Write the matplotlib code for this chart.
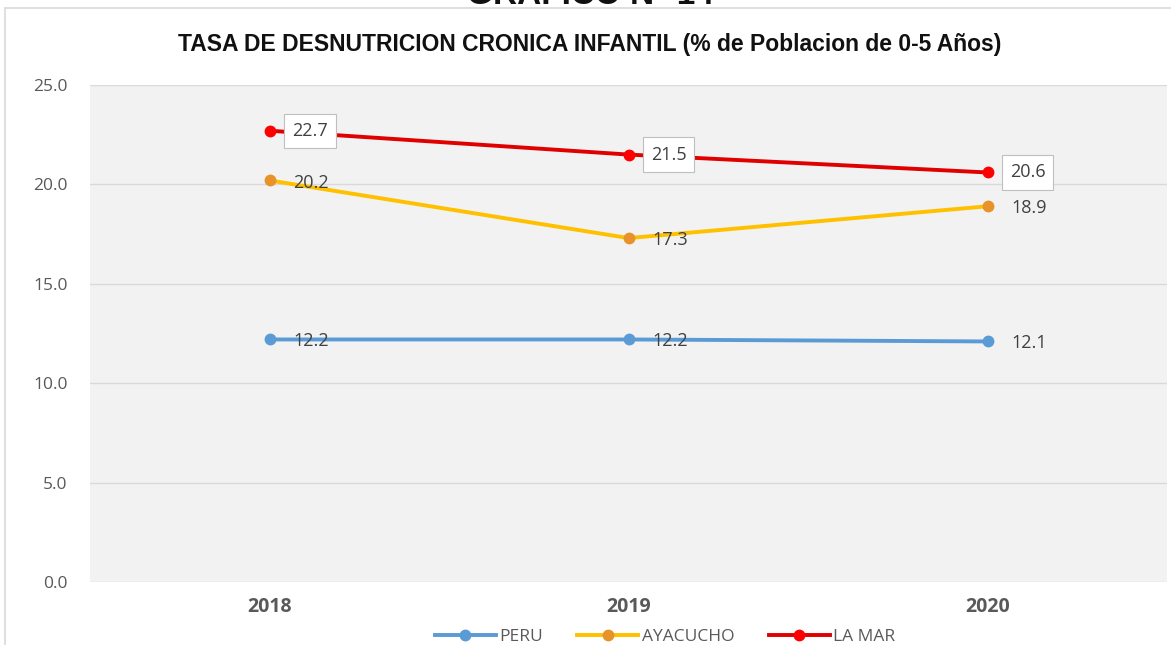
import matplotlib.pyplot as plt
from matplotlib.patches import Rectangle

years = ["2018", "2019", "2020"]
peru = [12.2, 12.2, 12.1]
ayacucho = [20.2, 17.3, 18.9]
la_mar = [22.7, 21.5, 20.6]

title = "TASA DE DESNUTRICION CRONICA INFANTIL (% de Poblacion de 0-5 Años)"
header = "GRAFICO N° 14"

plt.rcParams['font.family'] = ['Open Sans', 'DejaVu Sans']

fig = plt.figure(figsize=(11.71, 6.45), dpi=100)
fig.patch.set_facecolor("white")

# outer chart frame (cut on the right and bottom like the reference)
fig.patches.append(Rectangle((5 / 1171, -0.05), 1.2, 1 - 8 / 645 + 0.05,
                             transform=fig.transFigure, fill=False,
                             edgecolor="#d9d9d9", linewidth=1.2))

fig.text(590 / 1171, 1 - 4 / 645, header, ha="center", va="baseline",
         fontsize=24, fontweight="bold", family="Liberation Sans", color="#111111")
fig.text(590 / 1171, 1 - 45 / 645, title, ha="center", va="center",
         fontsize=16.5, fontweight="bold", family="Liberation Sans", color="#111111")

ax = fig.add_axes([90 / 1171, 1 - 582 / 645, (1167 - 90) / 1171, (582 - 85) / 645])
ax.set_facecolor("#f2f2f2")
x = range(len(years))

ax.plot(x, peru, color="#5b9bd5", lw=2.8, marker="o", ms=7.5, mfc="#5b9bd5", mec="#5b9bd5", label="PERU", zorder=3)
ax.plot(x, ayacucho, color="#ffc000", lw=2.8, marker="o", ms=7.5, mfc="#e8922a", mec="#e8922a", label="AYACUCHO", zorder=3)
ax.plot(x, la_mar, color="#e00000", lw=2.8, marker="o", ms=7.5, mfc="#ff0000", mec="#ff0000", label="LA MAR", zorder=4)

for i, v in enumerate(peru):
    ax.annotate(f"{v:.1f}", (i, v), xytext=(17, -1), textcoords="offset points",
                ha="left", va="center", fontsize=13, color="#404040", zorder=5)
for i, v in enumerate(ayacucho):
    ax.annotate(f"{v:.1f}", (i, v), xytext=(17, -1.5), textcoords="offset points",
                ha="left", va="center", fontsize=13, color="#404040", zorder=5)
for i, v in enumerate(la_mar):
    ax.annotate(f"{v:.1f}", (i, v), xytext=(16, 0), textcoords="offset points",
                ha="left", va="center", fontsize=13, color="#404040", zorder=5,
                bbox=dict(boxstyle="square,pad=0.45", fc="white", ec="#bfbfbf", lw=0.8))

ax.set_xlim(-0.5, 2.5)
ax.set_ylim(0, 25)
ax.set_yticks([0, 5, 10, 15, 20, 25])
ax.set_yticklabels([f"{t:.1f}" for t in [0, 5, 10, 15, 20, 25]])
ax.set_xticks(list(x))
ax.set_xticklabels(years, fontweight="bold")
ax.yaxis.grid(True, color="#d9d9d9", lw=1)
ax.set_axisbelow(True)
for s in ax.spines.values():
    s.set_visible(False)
ax.tick_params(axis="both", length=0, labelsize=12.5, colors="#595959")
ax.tick_params(axis="x", labelsize=14)
ax.tick_params(axis="y", pad=16)
ax.tick_params(axis="x", pad=11)

fig.legend(loc="center", bbox_to_anchor=(665 / 1171, 1 - 637 / 645), ncol=3,
           frameon=False, fontsize=12.5, handlelength=3.5, columnspacing=2.0,
           handletextpad=0.2, labelcolor="#595959")

fig.savefig("out.png", dpi=100)
